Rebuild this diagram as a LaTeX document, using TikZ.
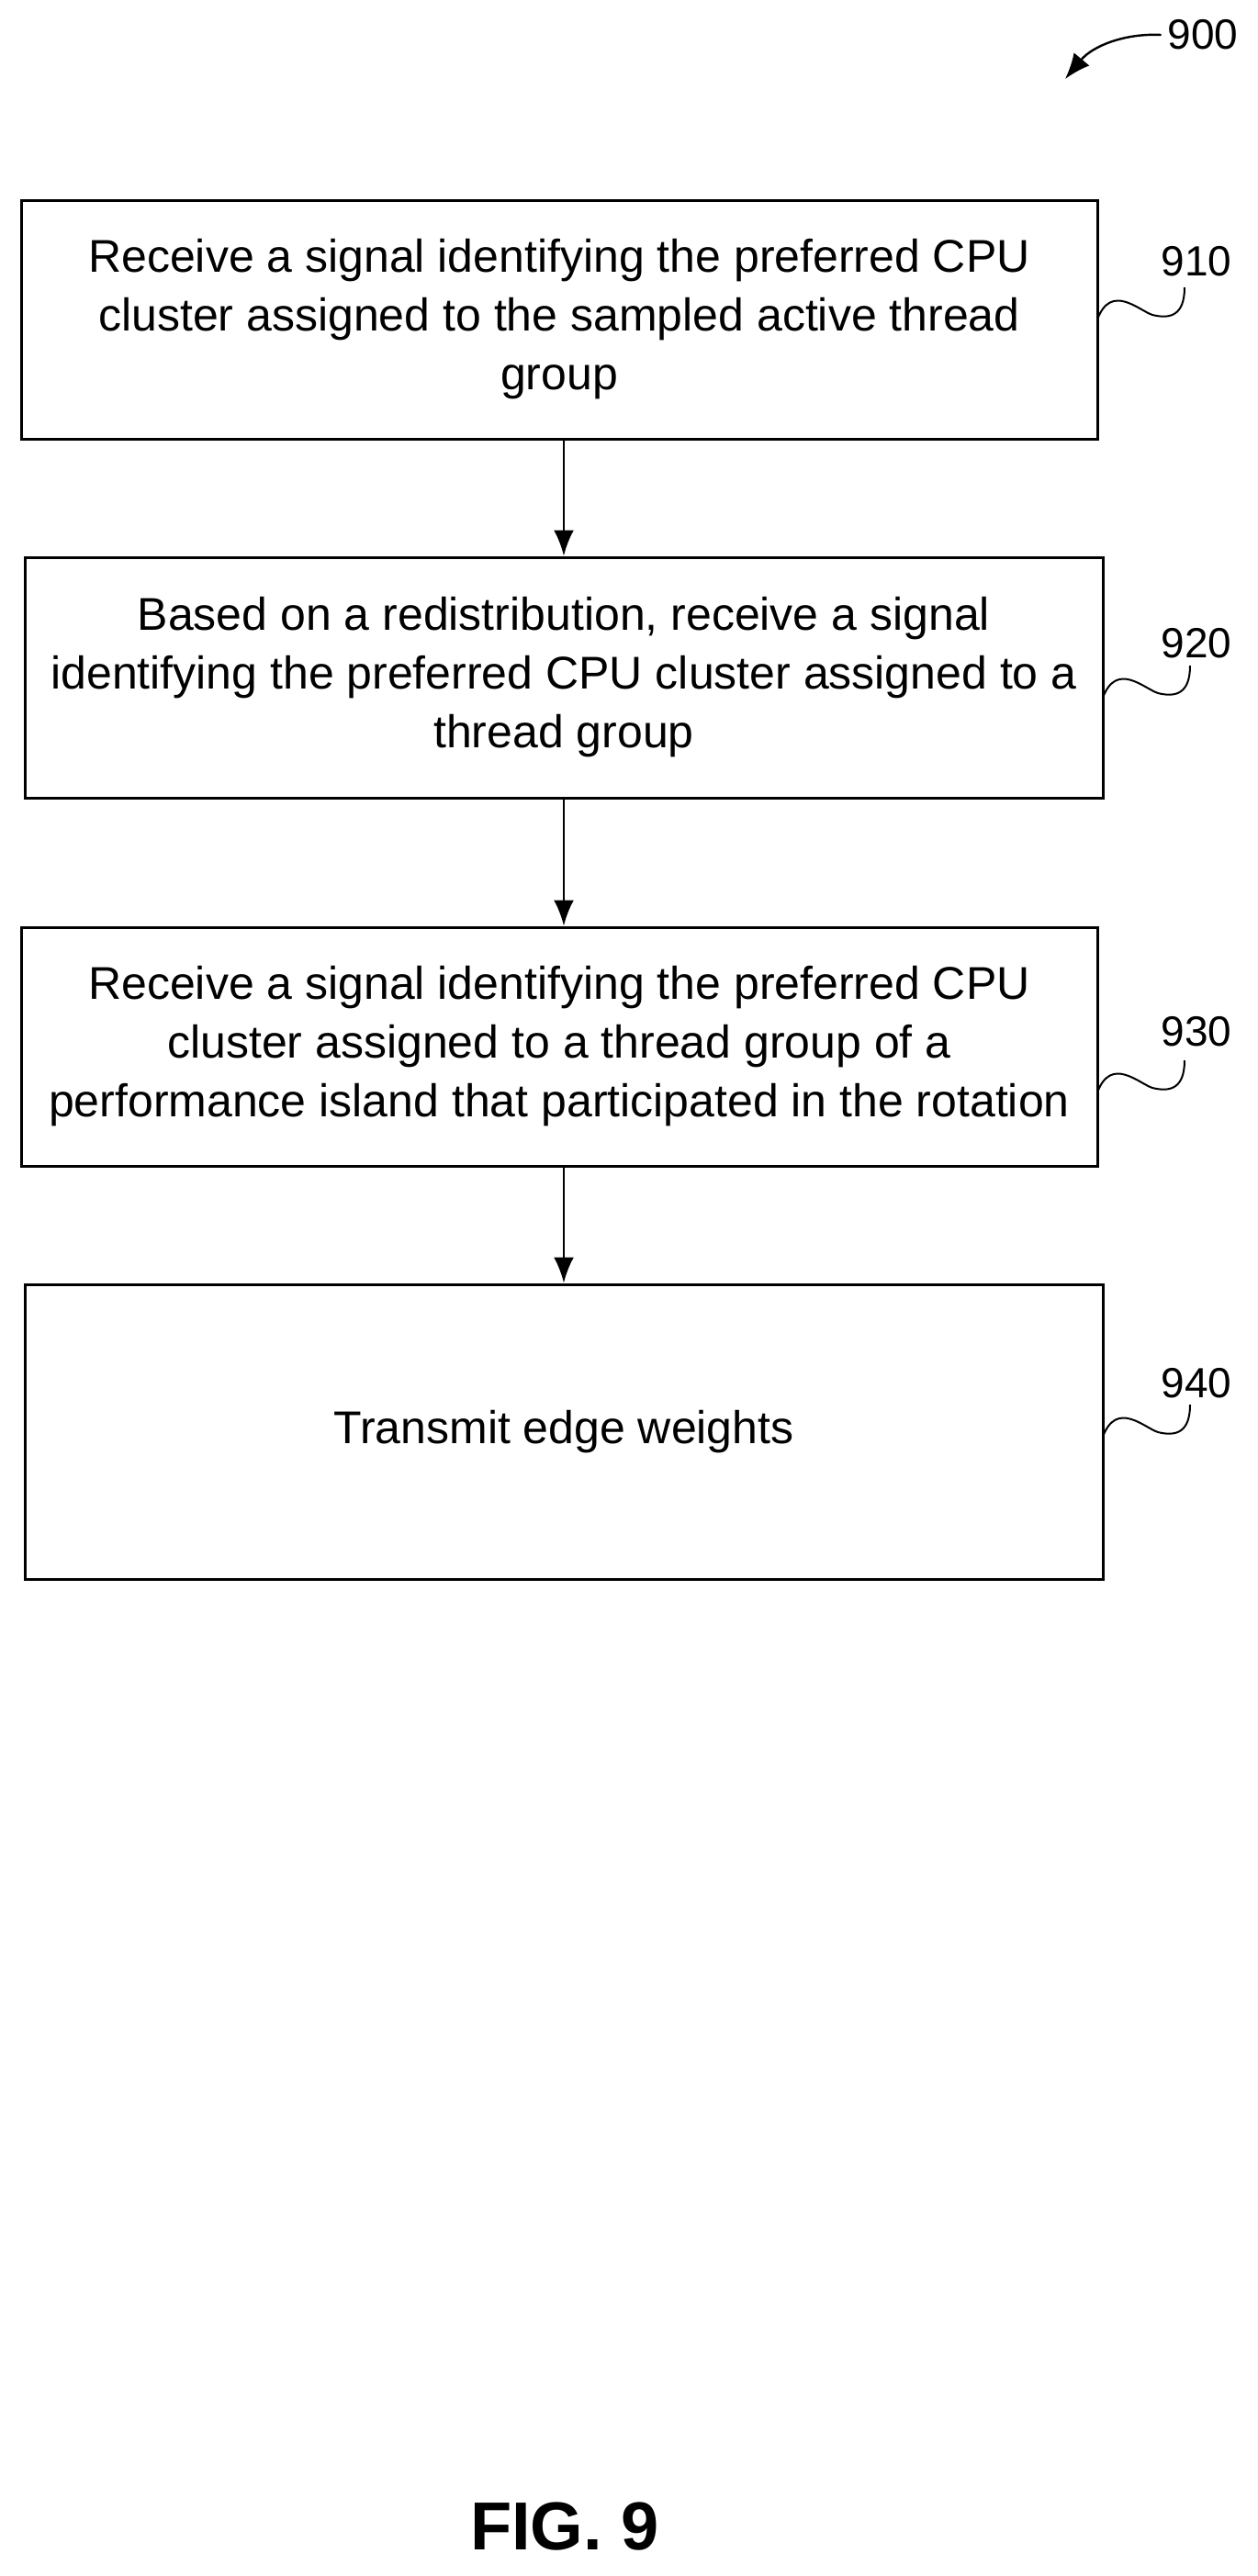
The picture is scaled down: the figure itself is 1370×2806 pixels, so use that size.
\documentclass[tikz,border=0pt]{standalone}
\usepackage{fontspec}
\setmainfont{Liberation Sans}
\usetikzlibrary{arrows.meta}
\begin{document}
\begin{tikzpicture}[x=0.5pt,y=-0.5pt,
  box/.style={draw,line width=1.5pt,align=center,inner sep=0pt,minimum width=586pt,font=\fontsize{25}{32}\selectfont},
  lab/.style={font=\fontsize{23}{26}\selectfont},
  arr/.style={-{Latex[length=14pt,width=11pt]},line width=1.4pt},
  sq/.style={line width=1pt}]
\useasboundingbox (0,0) rectangle (1370,2806);
\node[box,minimum height=130pt] (b1) at (609,348) {Receive a signal identifying the preferred CPU\\cluster assigned to the sampled active thread\\group};
\node[box,minimum height=131pt,minimum width=587pt] (b2) at (614,738) {Based on a redistribution, receive a signal\\identifying the preferred CPU cluster assigned to a\\thread group};
\node[box,minimum height=130pt] (b3) at (609,1140) {Receive a signal identifying the preferred CPU\\cluster assigned to a thread group of a\\performance island that participated in the rotation};
\node[box,minimum height=160.5pt,minimum width=587pt] (b4) at (614,1559.5) {Transmit edge weights};
\draw[arr] (b1.south -| 614,0) -- (b2.north -| 614,0);
\draw[arr] (b2.south -| 614,0) -- (b3.north -| 614,0);
\draw[arr] (b3.south -| 614,0) -- (b4.north -| 614,0);
\foreach \n/\y/\ly/\bx in {910/348/285/1195,920/760/701/1201,930/1190/1124/1195,940/1565/1507/1201}{
  \node[lab] (l\n) at (1303,\ly) {\n};
  \draw[sq] (\bx,\y) .. controls (\bx+15,\y-40) and (\bx+45,\y-10) .. (\bx+60,\y-5) .. controls (\bx+80,\y) and (\bx+95,\y-5) .. (\bx+95,\y-35);
}
\node[lab] (l900) at (1310,38) {900};
\coordinate (h900) at (1160,86);
\draw[arr,line width=1.2pt] (l900.west) .. controls (1225,36) and (1190,50) .. (h900);
\node[font=\bfseries\fontsize{37}{44}\selectfont] (fig) at (615,2752) {FIG. 9};
\end{tikzpicture}
\end{document}
